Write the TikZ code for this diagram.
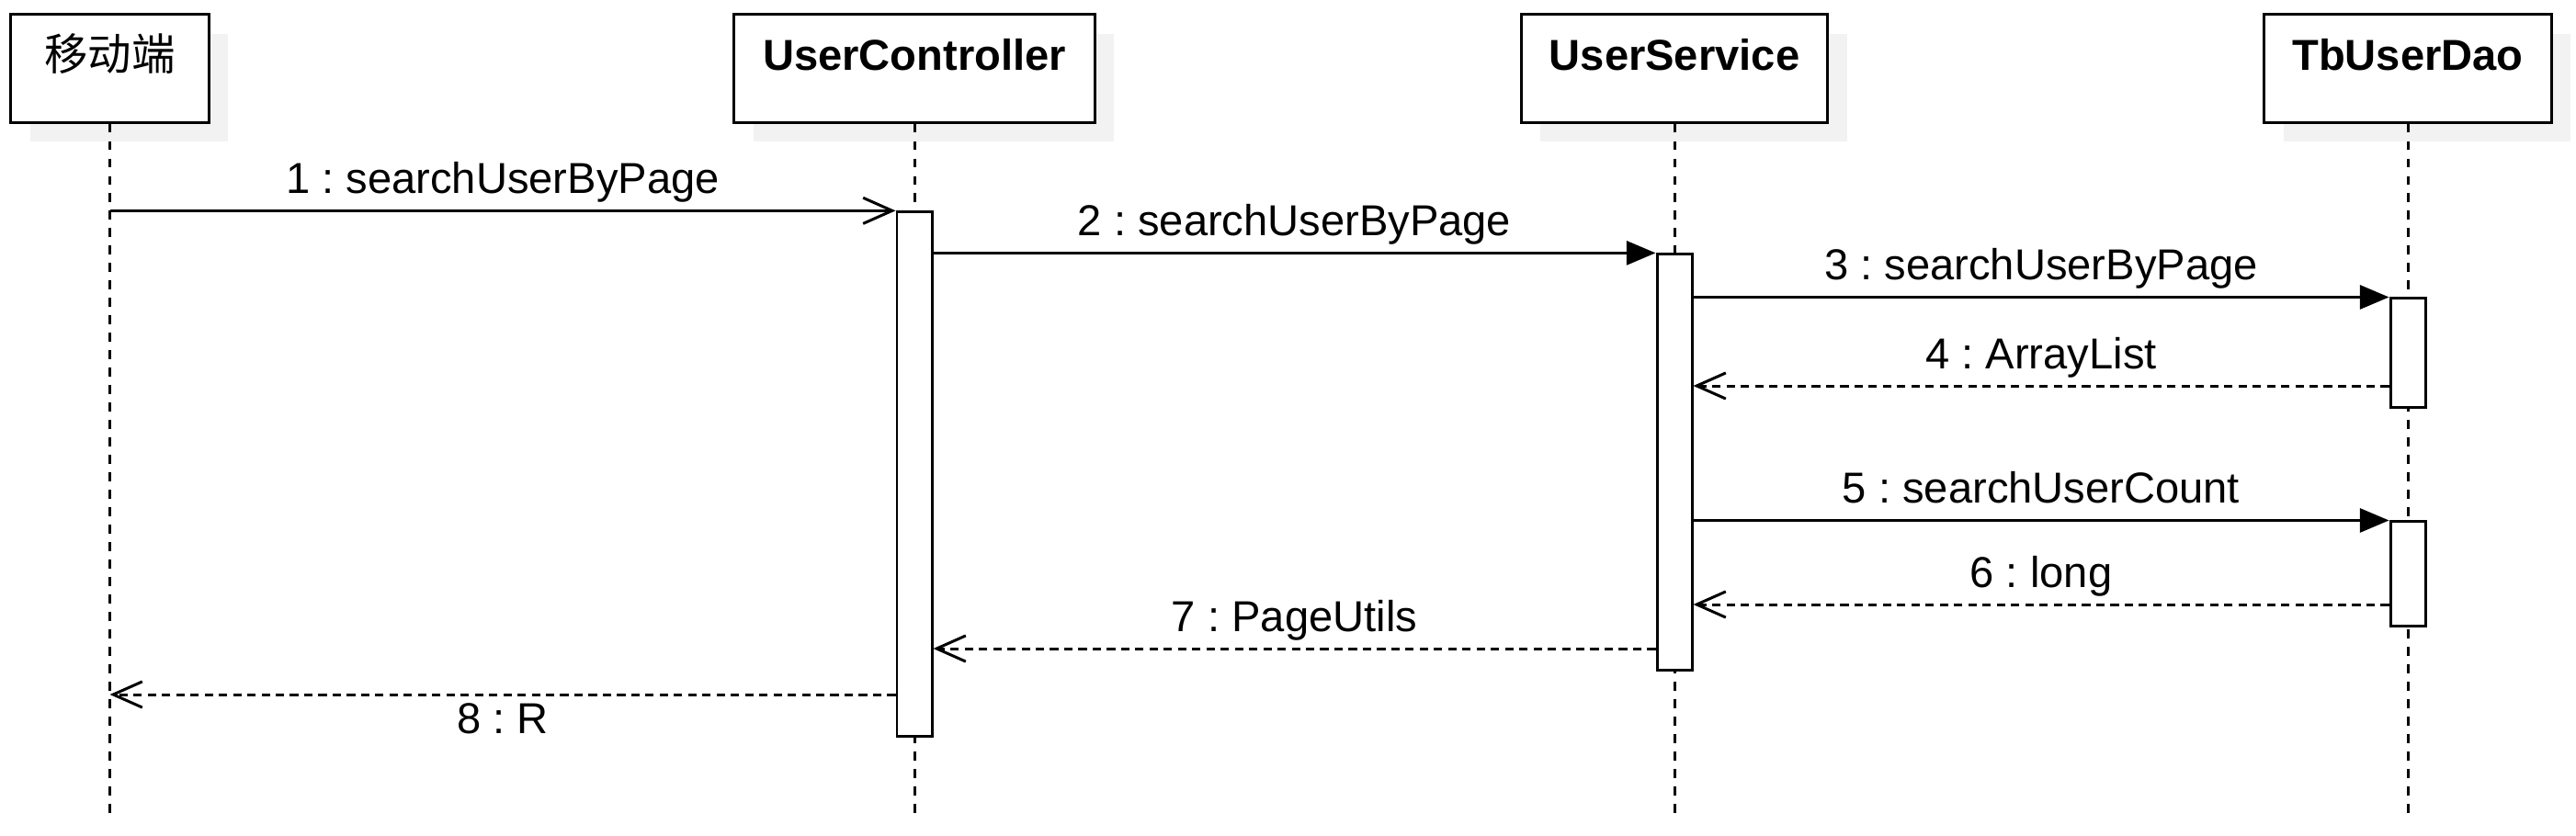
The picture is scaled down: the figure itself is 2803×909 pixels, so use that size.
\documentclass[tikz,border=0pt]{standalone}
\usepackage{fontspec}
\setmainfont{Liberation Sans}
\newfontfamily\cjk{Noto Sans CJK SC}
\usepackage{tikz}
\usetikzlibrary{arrows.meta,shadows}
\frenchspacing

\begin{document}
\begin{tikzpicture}[x=0.01cm,y=-0.01cm,line width=0.85pt,
  head/.style={draw,fill=white,minimum height=1.17cm,inner sep=0pt,
    text height=10pt,text depth=9pt,
    font=\fontsize{13.4pt}{16pt}\selectfont\bfseries,
    drop shadow={shadow xshift=0.21cm,shadow yshift=-0.21cm,fill=black!5,opacity=1}},
  bar/.style={draw,fill=white,minimum width=0.38cm,inner sep=0pt},
  life/.style={dash pattern=on 2.8pt off 2.6pt},
  call/.style={-{Triangle[length=9pt,width=7.4pt]}},
  async/.style={-{Straight Barb[length=9pt,width=8pt]}},
  ret/.style={dash pattern=on 2.6pt off 1.8pt,-{Straight Barb[length=9pt,width=8pt]}},
  lbl/.style={font=\fontsize{13.4pt}{16pt}\selectfont,text height=9.7pt,text depth=2.9pt,inner sep=2pt}]
\useasboundingbox (0,0) rectangle (2803,909);

\node[head,minimum width=2.15cm,font=\fontsize{13.5pt}{16pt}\selectfont\cjk] (mob) at (119.5,74.5) {移动端};
\node[head,minimum width=3.92cm] (ctrl) at (995,74.5) {UserController};
\node[head,minimum width=3.33cm] (svc) at (1822,74.5) {UserService};
\node[head,minimum width=3.12cm] (dao) at (2620,74.5) {TbUserDao};

\foreach \n in {mob,ctrl,svc,dao}
  \draw[life] (\n.south) -- (\n.south |- 0,894);

\node[bar,minimum height=5.7cm] (cb) at (995,516) {};
\node[bar,minimum height=4.52cm] (sb) at (1822,503) {};
\node[bar,minimum height=1.18cm] (db1) at (2620,384) {};
\node[bar,minimum height=1.13cm] (db2) at (2620,624.5) {};

\draw[async] (mob |- cb.north) -- node[lbl,above]{1 : searchUserByPage} (cb.north west);
\draw[call] (cb.east |- sb.north) -- node[lbl,above]{2 : searchUserByPage} (sb.north west);
\draw[call] (sb.east |- db1.north) -- node[lbl,above]{3 : searchUserByPage} (db1.north west);
\draw[ret] (db1.west |- 0,420) -- node[lbl,above]{4 : ArrayList} (sb.east |- 0,420);
\draw[call] (sb.east |- db2.north) -- node[lbl,above]{5 : searchUserCount} (db2.north west);
\draw[ret] (db2.west |- 0,658) -- node[lbl,above]{6 : long} (sb.east |- 0,658);
\draw[ret] (sb.west |- 0,706) -- node[lbl,above]{7 : PageUtils} (cb.east |- 0,706);
\draw[ret] (cb.west |- 0,756) -- node[lbl,below]{8 : R} (mob |- 0,756);
\end{tikzpicture}
\end{document}
